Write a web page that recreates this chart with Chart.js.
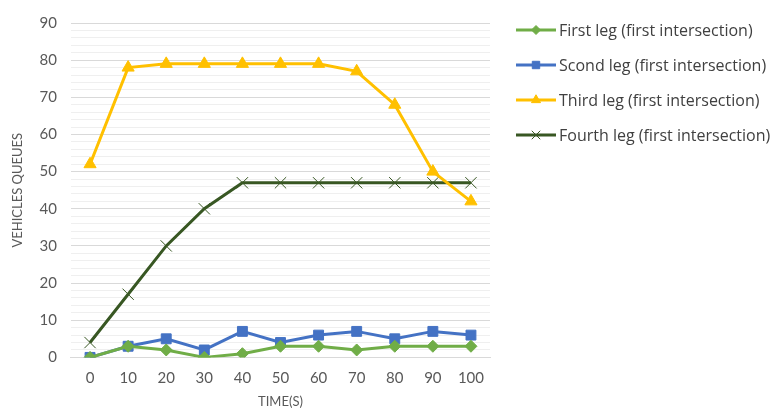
<!DOCTYPE html>
<html lang="en">
<head>
  <meta charset="UTF-8" />
  <title>Vehicles queues</title>
  <script src="https://cdn.jsdelivr.net/npm/chart.js"></script>
  <style>
    body {
      margin: 0;
      padding: 0;
      background-color: #fff;
    }
    .wrap {
      width: 776px;
      height: 414px;
      position: relative;
    }
  </style>
</head>
<body>
  <div class="wrap">
    <canvas id="queueChart"></canvas>
  </div>

  <script>
    const timeLabels = ['0', '10', '20', '30', '40', '50', '60', '70', '80', '90', '100'];
    const firstLeg  = [0, 3, 2, 0, 1, 3, 3, 2, 3, 3, 3];
    const secondLeg = [0, 3, 5, 2, 7, 4, 6, 7, 5, 7, 6];
    const thirdLeg  = [52, 78, 79, 79, 79, 79, 79, 77, 68, 50, 42];
    const fourthLeg = [4, 17, 30, 40, 47, 47, 47, 47, 47, 47, 47];
    const seriesNames = [
      'First leg (first intersection)',
      'Scond leg (first intersection)',
      'Third leg (first intersection)',
      'Fourth leg (first intersection)'
    ];

    const fontName = 'Lato, "Open Sans", sans-serif';

    // legend on the right, drawn like the Excel one: line with marker in the middle
    const sideLegend = {
      id: 'sideLegend',
      afterDraw(chart) {
        const ctx = chart.ctx;
        const x0 = 516, x1 = 556;
        chart.data.datasets.forEach((ds, i) => {
          const y = 30 + i * 35;
          ctx.save();
          ctx.strokeStyle = ds.borderColor;
          ctx.fillStyle = ds.backgroundColor;
          ctx.lineWidth = 3;
          ctx.beginPath();
          ctx.moveTo(x0, y);
          ctx.lineTo(x1, y);
          ctx.stroke();
          ctx.lineWidth = 1;
          Chart.helpers.drawPoint(ctx, {
            pointStyle: ds.pointStyle,
            radius: ds.pointRadius * 0.75,
            borderWidth: ds.pointBorderWidth
          }, (x0 + x1) / 2, y);
          ctx.fillStyle = '#404040';
          ctx.font = '16px "Open Sans", sans-serif';
          ctx.textBaseline = 'middle';
          ctx.fillText(ds.label, x1 + 3, y + 1);
          ctx.restore();
        });
      }
    };

    new Chart(document.getElementById('queueChart'), {
      type: 'line',
      data: {
        labels: timeLabels,
        datasets: [
          {
            label: seriesNames[0],
            data: firstLeg,
            borderColor: '#70AD47',
            backgroundColor: '#70AD47',
            pointStyle: 'rectRot',
            pointRadius: 6,
            pointBorderWidth: 1,
            borderWidth: 3
          },
          {
            label: seriesNames[1],
            data: secondLeg,
            borderColor: '#4472C4',
            backgroundColor: '#4472C4',
            pointStyle: 'rect',
            pointRadius: 7,
            pointBorderWidth: 1,
            borderWidth: 3
          },
          {
            label: seriesNames[2],
            data: thirdLeg,
            borderColor: '#FFC000',
            backgroundColor: '#FFC000',
            pointStyle: 'triangle',
            pointRadius: 7,
            pointBorderWidth: 1,
            borderWidth: 3
          },
          {
            label: seriesNames[3],
            data: fourthLeg,
            borderColor: '#385723',
            backgroundColor: '#385723',
            pointStyle: 'crossRot',
            pointRadius: 8,
            pointBorderWidth: 1,
            borderWidth: 3
          }
        ]
      },
      options: {
        responsive: true,
        maintainAspectRatio: false,
        animation: false,
        layout: {
          padding: { top: -4, right: 286, left: 6, bottom: 0 }
        },
        plugins: {
          legend: { display: false },
          tooltip: { enabled: false }
        },
        scales: {
          x: {
            offset: true,
            grid: { display: false },
            border: { color: '#d9d9d9', width: 1 },
            ticks: { color: '#595959', font: { family: fontName, size: 15 }, padding: 4 },
            title: {
              display: true,
              text: 'TIME(S)',
              color: '#595959',
              font: { family: fontName, size: 13 },
              padding: { top: 3 }
            }
          },
          y: {
            min: 0,
            max: 90,
            grid: {
              color: (c) => (c.tick.value % 10 === 0 ? '#d9d9d9' : '#efefef'),
              drawTicks: false
            },
            border: { display: false },
            ticks: {
              stepSize: 2,
              autoSkip: false,
              padding: 14,
              color: '#595959',
              font: { family: fontName, size: 15 },
              callback: (v) => (v % 10 === 0 ? v : '')
            },
            title: {
              display: true,
              text: 'VEHICLES QUEUES',
              color: '#595959',
              font: { family: fontName, size: 13 },
              padding: { bottom: 0 }
            }
          }
        }
      },
      plugins: [sideLegend]
    });
  </script>
</body>
</html>
